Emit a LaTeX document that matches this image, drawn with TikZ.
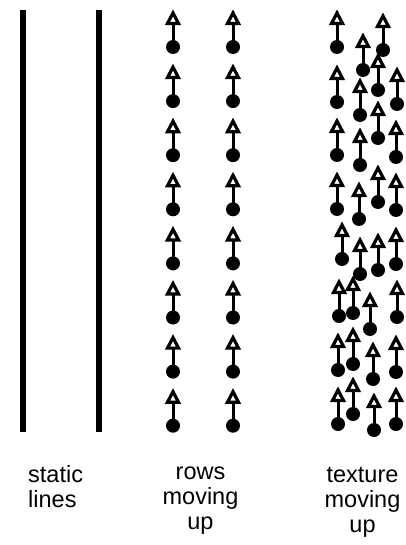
\documentclass[tikz,border=0pt]{standalone}
\usepackage{fontspec}
\setmainfont{Liberation Sans}
\usetikzlibrary{positioning}
\tikzset{
  bar/.style={line width=6pt, draw=black},
  stem/.style={line width=3pt, draw=black},
  head/.style={line width=3.2pt, draw=black, fill=white, line join=miter},
  blob/.style={fill=black},
  caption/.style={font=\fontsize{23.5}{25}\selectfont, inner sep=0pt, text=black},
}
% one marker: x, y of the arrow tip
\newcommand{\upmark}[2]{%
  \draw[stem] (#1,#2+13) -- (#1,#2+37);
  \fill[blob] (#1,#2+37) circle (7);
  \draw[head] (#1,#2+3) -- (#1-5.5,#2+13.5) -- (#1+5.5,#2+13.5) -- cycle;
}

\begin{document}
\begin{tikzpicture}[x=1pt, y=-1pt]
  \useasboundingbox (0,0) rectangle (406,545);

  % static lines
  \foreach \x in {22.5, 98.5}
    \draw[bar] (\x,10) -- (\x,432);

  % rows moving up
  \foreach \x in {173, 233} {
    \foreach \k in {0,...,7} {
      \upmark{\x}{10+54.1*\k}
    }
  }

  % texture moving up
  \foreach \x/\y in {337/10, 383/13, 363/33, 378/53, 337/65, 397/67,
                     360/78, 378/101, 337/118, 396/120, 360/128,
                     378/165, 337/172, 396/173, 359/182,
                     342/222, 396/227, 378/233, 360/237,
                     353/276, 339/279, 397/280, 370/292,
                     353/327, 338/333, 396/335, 373/342,
                     353/377, 338/387, 396/387, 374/393} {
    \upmark{\x}{\y}
  }

  % captions
  \node[caption, align=left, anchor=north west] (static) at (28,465) {static\\lines};
  \node[caption, align=center, anchor=north] (rows) at (200.5,467) {rows\\moving\\up};
  \node[caption, align=center, anchor=north] (texture) at (362.5,467) {texture\\moving\\up};
\end{tikzpicture}
\end{document}
